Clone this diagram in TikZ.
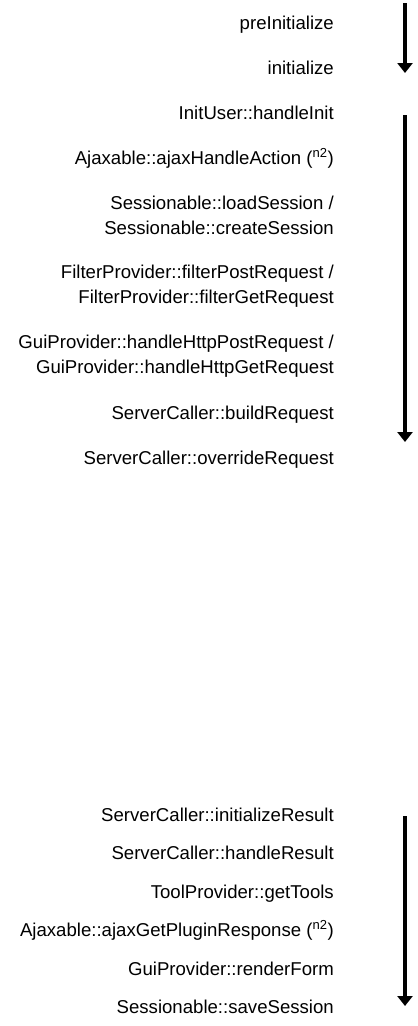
\documentclass[tikz,border=0pt]{standalone}
\usepackage{fontspec}
\setmainfont{Liberation Sans}
\usetikzlibrary{arrows.meta}
\begin{document}
\begin{tikzpicture}[x=1bp,y=-1bp,
  lbl/.style={anchor=base east,inner sep=0pt,font=\fontsize{18.6bp}{22bp}\selectfont},
  flow/.style={line width=4.5bp,-{Triangle[width=15bp,length=10bp]}}]
\useasboundingbox (0,0) rectangle (417,1026);
\def\tx{334}
\node[lbl] (a1) at (\tx,29) {preInitialize};
\node[lbl] (a2) at (\tx,74) {initialize};
\node[lbl] (b1) at (\tx,119) {InitUser::handleInit};
\node[lbl] (b2) at (\tx,164) {Ajaxable::ajaxHandleAction (\textsuperscript{n2})};
\node[lbl] (b3) at (\tx,209) {Sessionable::loadSession /};
\node[lbl] (b3b) at (\tx,234) {Sessionable::createSession};
\node[lbl] (b4) at (\tx,278) {FilterProvider::filterPostRequest /};
\node[lbl] (b4b) at (\tx,303) {FilterProvider::filterGetRequest};
\node[lbl] (b5) at (\tx,348) {GuiProvider::handleHttpPostRequest /};
\node[lbl] (b5b) at (\tx,373) {GuiProvider::handleHttpGetRequest};
\node[lbl] (b6) at (\tx,419) {ServerCaller::buildRequest};
\node[lbl] (b7) at (\tx,464) {ServerCaller::overrideRequest};
\node[lbl] (c1) at (\tx,821) {ServerCaller::initializeResult};
\node[lbl] (c2) at (\tx,859.5) {ServerCaller::handleResult};
\node[lbl] (c3) at (\tx,898) {ToolProvider::getTools};
\node[lbl] (c4) at (\tx,936) {Ajaxable::ajaxGetPluginResponse (\textsuperscript{n2})};
\node[lbl] (c5) at (\tx,975) {GuiProvider::renderForm};
\node[lbl] (c6) at (\tx,1013) {Sessionable::saveSession};
\coordinate (s1) at (405,3);
\coordinate (e1) at (405,73);
\coordinate (s2) at (405,115);
\coordinate (e2) at (405,442);
\coordinate (s3) at (405,816);
\coordinate (e3) at (405,1006);
\draw[flow] (s1) -- (e1);
\draw[flow] (s2) -- (e2);
\draw[flow] (s3) -- (e3);
\end{tikzpicture}
\end{document}
